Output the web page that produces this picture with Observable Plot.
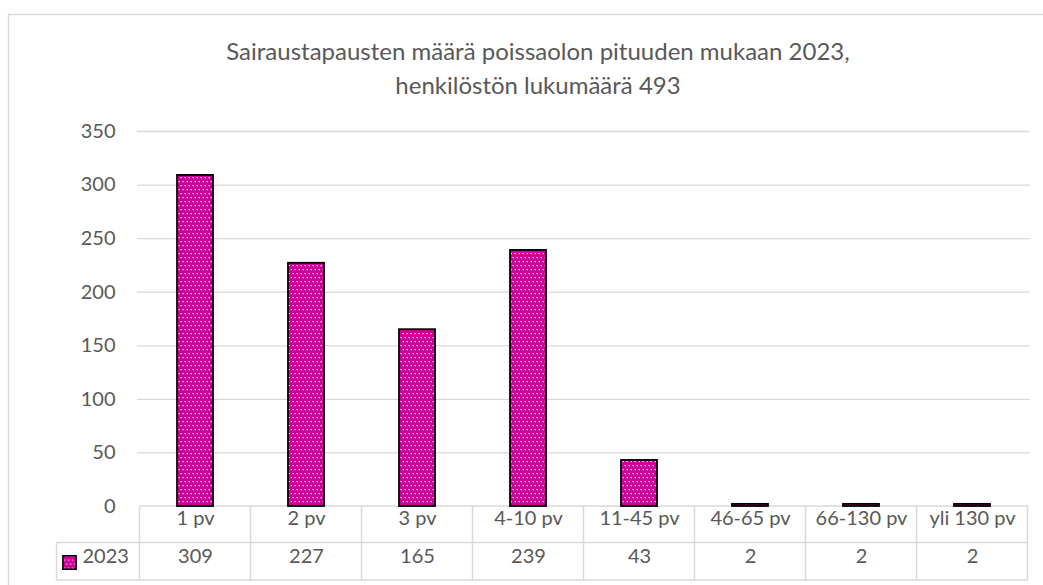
<!DOCTYPE html>
<html>
<head>
<meta charset="utf-8">
<script src="https://cdn.jsdelivr.net/npm/d3@7"></script>
<script src="https://cdn.jsdelivr.net/npm/@observablehq/plot@0.6"></script>
<style>
  html, body { margin: 0; padding: 0; background: #fff; overflow: hidden; }
  #wrap { position: relative; width: 1043px; height: 585px; }
  #title {
    position: absolute; left: 38px; width: 1000px; top: 34px;
    text-align: center; font-family: Lato, sans-serif; font-size: 24px;
    line-height: 34px; color: #595959;
  }
  #chart { position: absolute; left: 0; top: 0; }
</style>
</head>
<body>
<div id="wrap">
  <div id="chart"></div>
  <div id="title">Sairaustapausten määrä poissaolon pituuden mukaan 2023,<br>henkilöstön lukumäärä 493</div>
</div>
<script>
const categories = ["1 pv", "2 pv", "3 pv", "4-10 pv", "11-45 pv", "46-65 pv", "66-130 pv", "yli 130 pv"];
const values2023 = [309, 227, 165, 239, 43, 2, 2, 2];
const seriesName = "2023";
const yTicks = [0, 50, 100, 150, 200, 250, 300, 350];

const data = categories.map((c, i) => ({cat: c, value: values2023[i]}));
const textColor = "#595959";
const gridColor = "#d9d9d9";
const font = "Lato, sans-serif";

const chart = Plot.plot({
  width: 1043,
  height: 585,
  marginLeft: 137,
  marginRight: 13,
  marginTop: 131,
  marginBottom: 79,
  style: {fontFamily: font, color: textColor, background: "transparent"},
  x: {domain: categories, paddingInner: 0.677, paddingOuter: 0.3385, axis: null},
  y: {domain: [0, 350], axis: null},
  marks: [
    Plot.gridY(yTicks.filter(d => d > 0), {stroke: gridColor, strokeOpacity: 1, strokeWidth: 1.3}),
    Plot.axisY(yTicks, {tickSize: 0, tickPadding: 22, fontSize: 20, fill: textColor, label: null}),
    Plot.barY(data, {x: "cat", y: "value", fill: "url(#dots)", stroke: "black", strokeWidth: 1.8}),
    Plot.text(data, {x: "cat", text: "cat", frameAnchor: "bottom", dy: 18, fontSize: 20, fill: textColor}),
    Plot.text(data, {x: "cat", text: d => String(d.value), frameAnchor: "bottom", dy: 56, fontSize: 20, fill: textColor}),
    Plot.text([seriesName], {text: d => d, frameAnchor: "bottom-left", dx: -55, dy: 56, textAnchor: "start", fontSize: 20, fill: textColor}),
    Plot.dot([seriesName], {frameAnchor: "bottom-left", dx: -68, dy: 56, symbol: "square", r: 7.5, fill: "url(#dots)", stroke: "black", strokeWidth: 1.5})
  ]
});

document.getElementById("chart").appendChild(chart);

// pattern definition
const svg = d3.select(chart);
const defs = svg.insert("defs", ":first-child");
const pat = defs.append("pattern").attr("id", "dots").attr("patternUnits", "userSpaceOnUse")
  .attr("width", 4).attr("height", 8);
pat.append("rect").attr("width", 4).attr("height", 8).attr("fill", "#cc0099");
pat.append("rect").attr("x", 0.6).attr("y", 1).attr("width", 1.2).attr("height", 1.2).attr("fill", "#fff");
pat.append("rect").attr("x", 2.6).attr("y", 5).attr("width", 1.2).attr("height", 1.2).attr("fill", "#fff");

// data table grid drawn from the x and y scales
const xs = chart.scale("x");
const ys = chart.scale("y");
const step = xs.step;
const gap = step - xs.bandwidth;
const edges = categories.map(c => xs.apply(c) - gap / 2);
const xEnd = edges[edges.length - 1] + step;
const y0 = ys.apply(0);
const row1 = y0 + 36.5;
const row2 = y0 + 74;
const legendLeft = edges[0] - 83;
const g = svg.append("g").attr("stroke", gridColor).attr("stroke-width", 1.5).attr("fill", "none");
g.append("line").attr("x1", edges[0]).attr("x2", xEnd).attr("y1", y0).attr("y2", y0);
g.append("line").attr("x1", legendLeft).attr("x2", xEnd).attr("y1", row1).attr("y2", row1);
g.append("line").attr("x1", legendLeft).attr("x2", xEnd).attr("y1", row2).attr("y2", row2);
g.append("line").attr("x1", legendLeft).attr("x2", legendLeft).attr("y1", row1).attr("y2", row2);
[...edges, xEnd].forEach(e => {
  g.append("line").attr("x1", e).attr("x2", e).attr("y1", y0).attr("y2", row2);
});
// outer chart border
svg.append("path").attr("d", "M8.5,1000V14.5H2000").attr("stroke", gridColor).attr("stroke-width", 1.5).attr("fill", "none");
// bring bars above the table line
svg.selectAll("g[aria-label='bar']").raise();
</script>
</body>
</html>
